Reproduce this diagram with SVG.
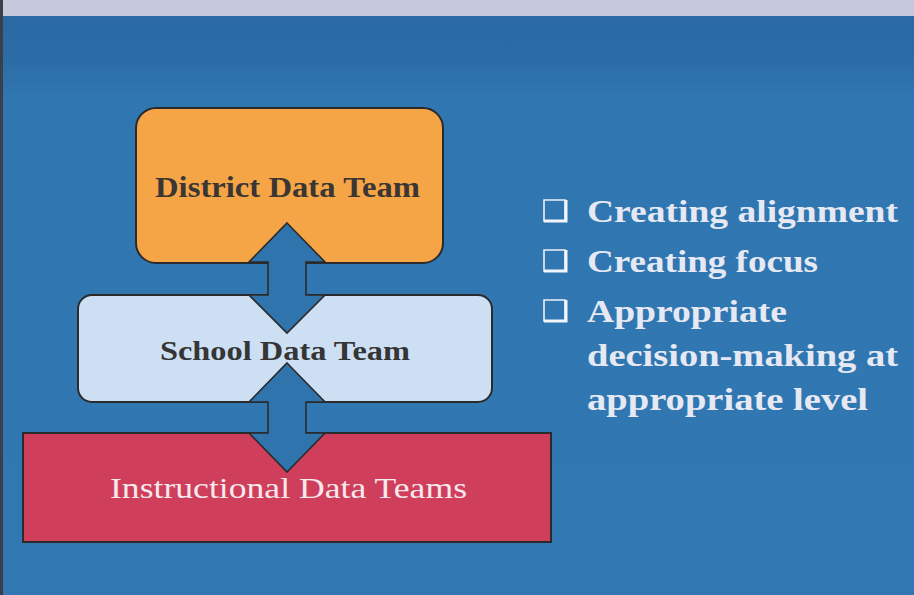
<svg xmlns="http://www.w3.org/2000/svg" width="914" height="595" viewBox="0 0 914 595">
<defs>
<linearGradient id="bg" x1="0" y1="0" x2="0" y2="1">
<stop offset="0" stop-color="#2a69a3"/>
<stop offset="0.1" stop-color="#2b6ca6"/>
<stop offset="0.16" stop-color="#3076b0"/>
<stop offset="1" stop-color="#3178b2"/>
</linearGradient>
<style>
.box{stroke:#2b2b2b;stroke-width:2}
.arrow{fill:#2f74ad;stroke:#2b2b2b;stroke-width:1.6;stroke-linejoin:miter}
.lbl{font-family:"Liberation Serif","Times New Roman",serif;text-anchor:start}
.bul{font-family:"Liberation Serif","Times New Roman",serif;font-weight:bold;font-size:31px;fill:#e6e9f3}
.chk{fill:none;stroke:#eef0f6;stroke-width:1.6}
.chks{fill:none;stroke:#f4f5fa;stroke-width:3}
</style>
</defs>
<rect x="0" y="0" width="914" height="595" fill="url(#bg)"/>
<rect x="0" y="0" width="914" height="16" fill="#c6c8dc"/>
<rect x="0" y="0" width="3" height="595" fill="#3a3f4a"/>

<g id="district">
<rect class="box" x="136" y="108" width="307" height="155" rx="20" fill="#f5a546"/>
<text class="lbl" x="155" y="197" font-size="29" font-weight="bold" fill="#3b3633" textLength="265" lengthAdjust="spacingAndGlyphs">District Data Team</text>
</g>

<g id="school">
<rect class="box" x="78" y="295" width="414" height="107" rx="14" fill="#cde0f3"/>
<text class="lbl" x="160" y="360" font-size="28" font-weight="bold" fill="#353535" textLength="250" lengthAdjust="spacingAndGlyphs">School Data Team</text>
</g>

<g id="instructional">
<rect class="box" x="23" y="433" width="528" height="109" fill="#cf3f5b"/>
<text class="lbl" x="110" y="498" font-size="30" fill="#f6e8ec" textLength="357" lengthAdjust="spacingAndGlyphs">Instructional Data Teams</text>
</g>

<g id="connectors">
<path class="arrow" d="M287,223 L325,262 L306,262 L306,295 L325,295 L287,333 L249,295 L268,295 L268,262 L249,262 Z"/>
<path class="arrow" d="M287,363 L325,402 L306,402 L306,433 L325,433 L287,472 L249,433 L268,433 L268,402 L249,402 Z"/>
</g>

<g id="bullets">
<g id="bullet1">
<path class="chk" d="M544,221 L544,200 L565,200 L565,221 Z"/>
<path class="chks" d="M544,221 L566,221 L566,200"/>
<text class="bul" x="587" y="222" textLength="311" lengthAdjust="spacingAndGlyphs">Creating alignment</text>
</g>
<g id="bullet2">
<path class="chk" d="M544,271 L544,250 L565,250 L565,271 Z"/>
<path class="chks" d="M544,271 L566,271 L566,250"/>
<text class="bul" x="587" y="272" textLength="231" lengthAdjust="spacingAndGlyphs">Creating focus</text>
</g>
<g id="bullet3">
<path class="chk" d="M544,321 L544,300 L565,300 L565,321 Z"/>
<path class="chks" d="M544,321 L566,321 L566,300"/>
<text class="bul" x="587" y="322" textLength="200" lengthAdjust="spacingAndGlyphs">Appropriate</text>
<text class="bul" x="587" y="366" textLength="311" lengthAdjust="spacingAndGlyphs">decision-making at</text>
<text class="bul" x="587" y="410" textLength="281" lengthAdjust="spacingAndGlyphs">appropriate level</text>
</g>
</g>
</svg>
